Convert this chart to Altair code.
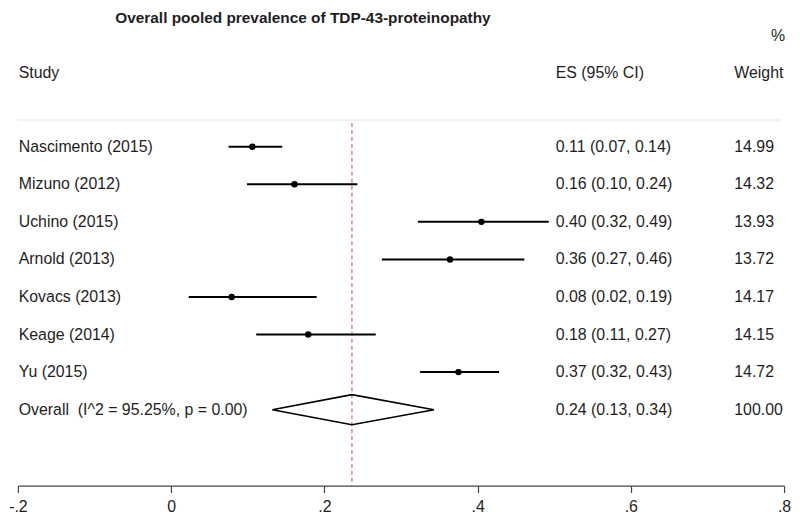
import altair as alt
import pandas as pd

# ---- data ----
studies = ["Nascimento (2015)", "Mizuno (2012)", "Uchino (2015)", "Arnold (2013)",
           "Kovacs (2013)", "Keage (2014)", "Yu (2015)"]
es = [0.106, 0.161, 0.405, 0.364, 0.079, 0.179, 0.375]
lo = [0.075, 0.099, 0.322, 0.275, 0.023, 0.111, 0.325]
hi = [0.145, 0.243, 0.493, 0.461, 0.190, 0.267, 0.428]
es_labels = ["0.11 (0.07, 0.14)", "0.16 (0.10, 0.24)", "0.40 (0.32, 0.49)",
             "0.36 (0.27, 0.46)", "0.08 (0.02, 0.19)", "0.18 (0.11, 0.27)",
             "0.37 (0.32, 0.43)"]
weights = ["14.99", "14.32", "13.93", "13.72", "14.17", "14.15", "14.72"]

overall_label = "Overall\u00a0 (I^2 = 95.25%, p = 0.00)"
overall_es = 0.236
overall_lo = 0.132
overall_hi = 0.343
overall_es_label = "0.24 (0.13, 0.34)"
overall_weight = "100.00"

title_text = "Overall pooled prevalence of TDP-43-proteinopathy"
x_ticks = [-0.2, 0, 0.2, 0.4, 0.6, 0.8]

# ---- layout helpers ----
FONT = "Liberation Sans"
TXT = "#1e1e1e"
col_study, col_es, col_w, col_pct = -0.199, 0.502, 0.735, 0.783
row_header, row_pct, row_title = -0.96, -1.96, -2.44
row_sep, row_dash_top = 0.29, 0.37
y_dom = [-2.651, 10.021]
diamond_half = 0.40

n = len(studies)
rows = list(range(1, n + 1))
overall_row = n + 1

df = pd.DataFrame({"study": studies, "es": es, "lo": lo, "hi": hi,
                   "es_label": es_labels, "weight": weights, "row": rows})

xscale = alt.Scale(domain=[-0.2, 0.8], nice=False, zero=False)
yscale = alt.Scale(domain=y_dom, reverse=True, nice=False, zero=False)
xaxis = alt.Axis(values=x_ticks,
                 labelExpr="datum.value == 0 ? '0' : (datum.value < 0 ? '-' : '') + replace(format(abs(datum.value), '.1f'), '0.', '.')",
                 tickSize=7, tickColor="#444", domainColor="#444", tickWidth=1.2,
                 domainWidth=1.2, labelFontSize=16, labelFont=FONT, labelColor=TXT,
                 labelPadding=6, grid=False, title=None, labelFlush=False)


def X(f):
    return alt.X(f, type="quantitative", scale=xscale, axis=xaxis)


def Y(f):
    return alt.Y(f, type="quantitative", scale=yscale, axis=None)


# separator line under header
sep = alt.Chart(pd.DataFrame({"a": [-0.2], "b": [0.795], "row": [row_sep]})).mark_rule(
    color="#e4e4e4", strokeWidth=1).encode(x=X("a"), x2="b", y=Y("row"))

# pooled estimate reference line
dash = alt.Chart(pd.DataFrame({"x": [overall_es], "r1": [row_dash_top], "r2": [y_dom[1]]})).mark_rule(
    color="#c0474f", strokeWidth=1, strokeDash=[4, 3]).encode(x=X("x"), y=Y("r1"), y2="r2")

ci = alt.Chart(df).mark_rule(color="black", strokeWidth=2).encode(
    x=X("lo"), x2="hi", y=Y("row"))
pts = alt.Chart(df).mark_circle(color="black", size=42, opacity=1).encode(
    x=X("es"), y=Y("row"))

diamond = pd.DataFrame({
    "x": [overall_lo, overall_es, overall_hi, overall_es, overall_lo],
    "row": [overall_row, overall_row - diamond_half, overall_row,
            overall_row + diamond_half, overall_row],
    "o": [0, 1, 2, 3, 4]})
dia = alt.Chart(diamond).mark_line(color="black", strokeWidth=1.6).encode(
    x=X("x"), y=Y("row"), order="o:Q")

# text columns
tab = pd.DataFrame({
    "x": [col_study] * (n + 1) + [col_es] * (n + 1) + [col_w] * (n + 1),
    "row": (rows + [overall_row]) * 3,
    "t": studies + [overall_label] + es_labels + [overall_es_label] + weights + [overall_weight]})
hdr = pd.DataFrame({"x": [col_study, col_es, col_w, col_pct],
                    "row": [row_header, row_header, row_header, row_pct],
                    "t": ["Study", "ES (95% CI)", "Weight", "%"]})
txt = alt.Chart(pd.concat([tab, hdr])).mark_text(
    align="left", baseline="middle", font=FONT, fontSize=16, color=TXT).encode(
    x=X("x"), y=Y("row"), text="t:N")

ttl = alt.Chart(pd.DataFrame({"x": [-0.073], "row": [row_title], "t": [title_text]})).mark_text(
    align="left", baseline="middle", font=FONT, fontSize=15.5,
    fontWeight="bold", color=TXT).encode(
    x=X("x"), y=Y("row"), text="t:N")

chart = alt.layer(sep, dash, ci, pts, dia, txt, ttl).properties(
    width=771, height=479,
    autosize=alt.AutoSizeParams(type="none"),
    padding={"left": 10, "right": 8, "top": 0, "bottom": 30},
    background="white",
).configure_view(stroke=None)

chart.save("out.html", embed_options={"renderer": "svg", "actions": False})
